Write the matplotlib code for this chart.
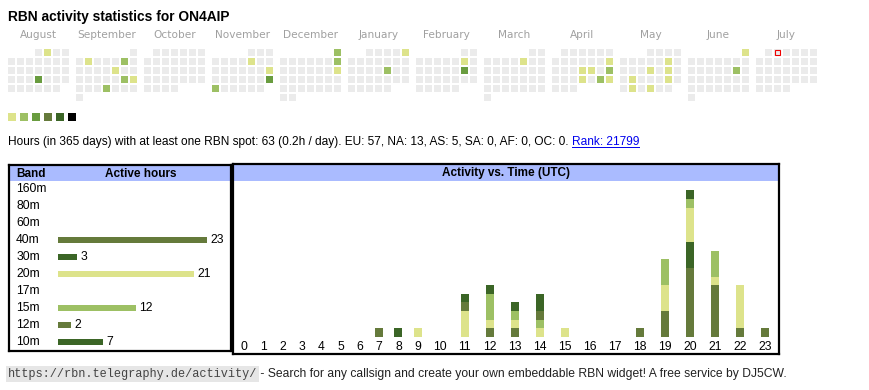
import calendar
import datetime as dt
import matplotlib as mpl
import matplotlib.pyplot as plt
from matplotlib.lines import Line2D

mpl.rcParams["font.family"] = ["Liberation Sans", "DejaVu Sans"]
mpl.rcParams["font.size"] = 8.5

W, H = 870, 390

title = "RBN activity statistics for ON4AIP"

# calendar: Aug 2024 .. Jul 2025
months = [(2024, 8), (2024, 9), (2024, 10), (2024, 11), (2024, 12), (2025, 1),
          (2025, 2), (2025, 3), (2025, 4), (2025, 5), (2025, 6), (2025, 7)]
month_names = ["August", "September", "October", "November", "December", "January",
               "February", "March", "April", "May", "June", "July"]
active_dates = ["2024-08-02", "2024-08-22",
                "2024-09-03", "2024-09-07", "2024-09-13", "2024-09-21", "2024-09-22", "2024-09-26",
                "2024-11-08", "2024-11-17", "2024-11-24", "2024-11-25",
                "2024-12-01", "2024-12-08", "2024-12-15",
                "2025-01-05", "2025-01-17",
                "2025-02-08", "2025-02-15",
                "2025-03-07",
                "2025-04-13", "2025-04-17", "2025-04-18", "2025-04-20", "2025-04-24", "2025-04-26", "2025-04-27",
                "2025-05-10", "2025-05-15", "2025-05-17", "2025-05-20", "2025-05-24", "2025-05-27", "2025-05-29",
                "2025-06-01", "2025-06-14"]
active_levels = [1, 3,
                 1, 2, 1, 2, 1, 2,
                 1, 1, 3, 2,
                 2, 2, 1,
                 1, 2,
                 1, 3,
                 1,
                 1, 1, 1, 2, 1, 2, 1,
                 1, 1, 1, 1, 1, 1, 1,
                 1, 2]
today = "2025-07-02"

summary = ("Hours (in 365 days) with at least one RBN spot: 63 (0.2h / day). "
           "EU: 57, NA: 13, AS: 5, SA: 0, AF: 0, OC: 0. ")
rank_text = "Rank: 21799"

bands = ["160m", "80m", "60m", "40m", "30m", "20m", "17m", "15m", "12m", "10m"]
band_hours = [0, 0, 0, 23, 3, 21, 0, 12, 2, 7]

hours = list(range(24))
hourly = {
    "40m": [0, 0, 0, 0, 0, 0, 0, 1, 0, 0, 0, 0, 1, 1, 0, 0, 0, 0, 1, 3, 8, 6, 1, 1],
    "30m": [0, 0, 0, 0, 0, 0, 0, 0, 0, 0, 0, 0, 0, 0, 0, 0, 0, 0, 0, 0, 3, 0, 0, 0],
    "20m": [0, 0, 0, 0, 0, 0, 0, 0, 0, 1, 0, 3, 1, 1, 1, 1, 0, 0, 0, 3, 4, 1, 5, 0],
    "15m": [0, 0, 0, 0, 0, 0, 0, 0, 0, 0, 0, 0, 3, 1, 1, 0, 0, 0, 0, 3, 1, 3, 0, 0],
    "12m": [0, 0, 0, 0, 0, 0, 0, 0, 0, 0, 0, 1, 0, 0, 1, 0, 0, 0, 0, 0, 0, 0, 0, 0],
    "10m": [0, 0, 0, 0, 0, 0, 0, 0, 1, 0, 0, 1, 1, 1, 2, 0, 0, 0, 0, 0, 1, 0, 0, 0],
}

footer_url = "https://rbn.telegraphy.de/activity/"
footer_text = " - Search for any callsign and create your own embeddable RBN widget! A free service by DJ5CW."

# styles
level_colors = ["#dde38b", "#9dc064", "#699c3f", "#657a3b", "#3b6526", "#000000"]
empty_color = "#ebebeb"
band_colors = {"160m": "#000000", "80m": "#3b6526", "60m": "#657a3b", "40m": "#657a3b",
               "30m": "#3b6526", "20m": "#dde38b", "17m": "#699c3f", "15m": "#9dc064",
               "12m": "#657a3b", "10m": "#3b6526"}
head_color = "#aabbff"


def px_axes(x0, y0, x1, y1):
    return fig.add_axes([x0 / W, 1 - y1 / H, (x1 - x0) / W, (y1 - y0) / H])


fig = plt.figure(figsize=(W / 100, H / 100), dpi=100)
fig.patch.set_facecolor("white")

fig.text(8 / W, 1 - 17 / H, title, fontsize=9.9, weight="bold", va="center")

# ---- calendar heatmap (cell pitch 9px, month pitch 68px)
cal = px_axes(8, 49, 818, 103)
cal.set_xlim(0, 90)
cal.set_ylim(6, 0)
cal.axis("off")
level_of = dict(zip(active_dates, active_levels))
xs, ys, cs = [], [], []
today_xy = None
for m, (yr, mo) in enumerate(months):
    first, ndays = calendar.monthrange(yr, mo)
    for d in range(1, ndays + 1):
        idx = first + d - 1
        x = m * 68 / 9 + idx % 7
        y = idx // 7
        key = dt.date(yr, mo, d).isoformat()
        lvl = level_of.get(key, 0)
        xs.append(x)
        ys.append(y)
        cs.append(level_colors[lvl - 1] if lvl else empty_color)
        if key == today:
            today_xy = (x, y)
    cal.text(m * 68 / 9 + 3.39, -1.55, month_names[m], ha="center", va="center",
             color="#a0a0a0", fontsize=7.6, family="DejaVu Sans", clip_on=False)
cal.bar(xs, 7 / 9, width=7 / 9, bottom=ys, align="edge", color=cs, linewidth=0)
cal.bar([today_xy[0] + 0.06], 0.66, width=0.66, bottom=[today_xy[1] + 0.06], align="edge",
        color=empty_color, edgecolor="#ee0000", linewidth=0.8)

# ---- colour legend
leg = px_axes(8, 113, 76, 121)
leg.set_xlim(0, 68 / 12)
leg.set_ylim(0, 1)
leg.axis("off")
leg.bar(range(len(level_colors)), 1, width=8 / 12, align="edge", color=level_colors, linewidth=0)

# ---- summary line with link
r = fig.canvas.get_renderer()
t = fig.text(8 / W, 1 - 142 / H, summary, fontsize=8.6, va="center")
x1 = t.get_window_extent(r).x1
t2 = fig.text(x1 / W, 1 - 142 / H, rank_text, fontsize=8.6, va="center", color="#0000ee")
bb = t2.get_window_extent(r)
fig.add_artist(Line2D([bb.x0 / W, bb.x1 / W], [(bb.y0 + 1.5) / H] * 2, color="#0000ee", lw=0.7))

# ---- band table
bt = px_axes(9, 165, 231.5, 351.3)
row_px, row0 = 17, 189
bt.set_ylim((351.3 - row0) / row_px, (165 - row0) / row_px)
bt.set_xlim((9 - 58) / 6.5, (231.5 - 58) / 6.5)
bt.axhspan((165 - row0) / row_px, (181 - row0) / row_px, color=head_color, lw=0)
for s in bt.spines.values():
    s.set_linewidth(1.6)
bt.set_xticks([])
bt.set_yticks([])
hy = (173.5 - row0) / row_px
bt.text(0.032, hy, "Band", transform=bt.get_yaxis_transform(), weight="bold", va="center")
bt.text(0.592, hy, "Active hours", transform=bt.get_yaxis_transform(), weight="bold",
        va="center", ha="center")
bt.barh(range(len(bands)), band_hours, height=0.37,
        color=[band_colors[b] for b in bands], linewidth=0)
for i, (b, v) in enumerate(zip(bands, band_hours)):
    bt.text(0.032, i, b, transform=bt.get_yaxis_transform(), va="center", fontsize=8.7)
    if v:
        bt.annotate(str(v), (v, i), xytext=(2.3, 0), textcoords="offset points",
                    va="center", fontsize=8.7)

# ---- activity vs time
at = px_axes(233.2, 164, 779, 353.8)
base, unit = 336.7, 8.6
at.set_xlim(233.2, 779)
at.set_ylim(-(353.8 - base) / unit, (base - 164) / unit)
at.axhspan((base - 181) / unit, (base - 164) / unit, color=head_color, lw=0)
for s in at.spines.values():
    s.set_linewidth(1.6)
at.set_xticks([])
at.set_yticks([])
at.text(506, (base - 173) / unit, "Activity vs. Time (UTC)", weight="bold", ha="center", va="center")
# column centres follow label width like an html table
widths = [19.3 if h < 10 else 25 for h in hours]
centers = [244.0]
for h in hours[1:]:
    centers.append(centers[-1] + (widths[h - 1] + widths[h]) / 2)
bottom = [0] * 24
for b in bands:
    if b not in hourly:
        continue
    vals = hourly[b]
    at.bar(centers, vals, width=8, bottom=bottom, color=band_colors[b], linewidth=0)
    bottom = [p + q for p, q in zip(bottom, vals)]
for h, c in zip(hours, centers):
    at.text(c, -(347 - base) / unit, str(h), ha="center", va="center", fontsize=8.7)

# ---- footer
f1 = fig.text(8 / W, 1 - 374 / H, footer_url, family="Liberation Mono", fontsize=8.6,
              color="#444444", va="center",
              bbox=dict(facecolor="#e6e6e6", edgecolor="none", pad=1.2))
x1 = f1.get_window_extent(r).x1
fig.text(x1 / W, 1 - 374 / H, footer_text, fontsize=8.75, va="center", color="#222222")

fig.savefig("out.png", dpi=100)
